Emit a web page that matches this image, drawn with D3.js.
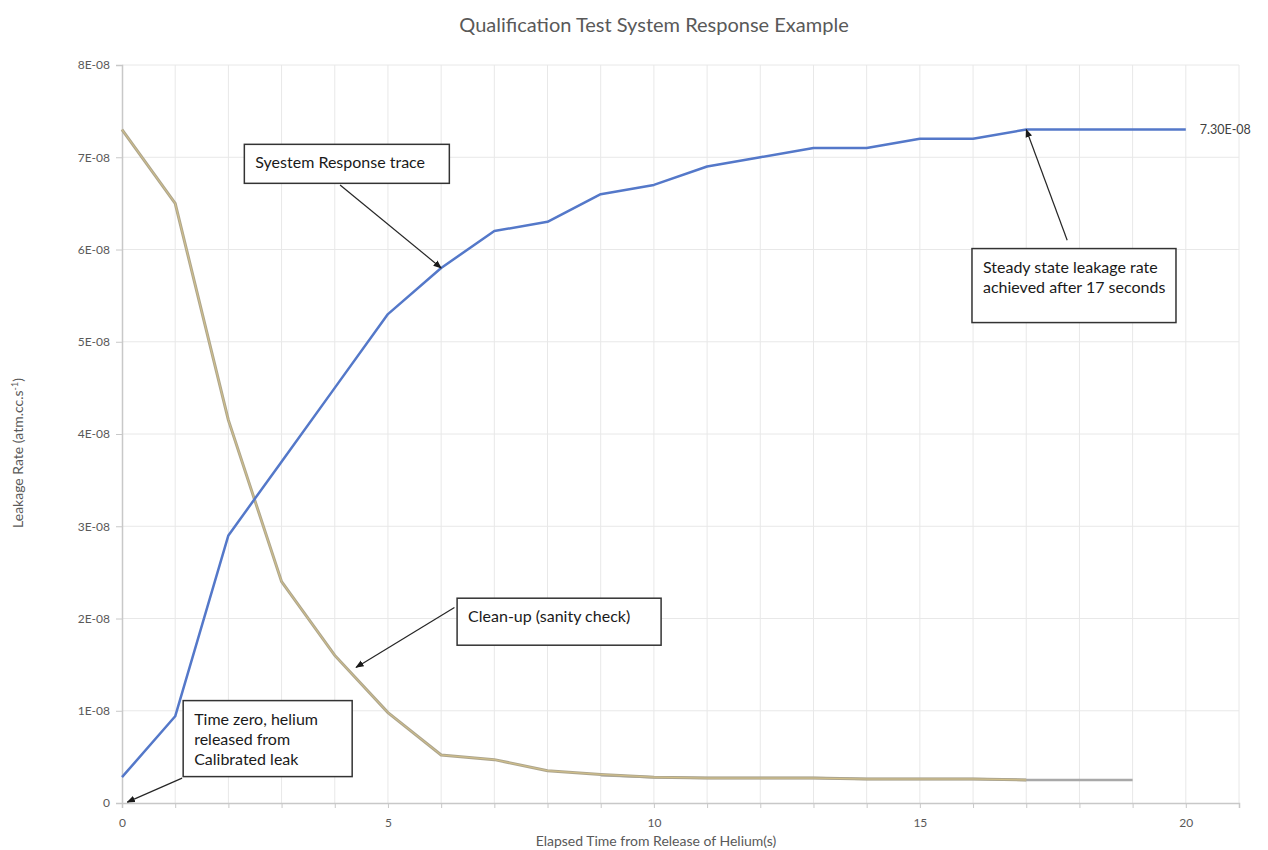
<!DOCTYPE html>
<html>
<head>
<meta charset="utf-8">
<script src="https://cdn.jsdelivr.net/npm/d3@7"></script>
<style>
  body { margin: 0; background: #fff; }
  svg { font-family: Lato, "Open Sans", sans-serif; }
</style>
</head>
<body>
<svg id="chart"></svg>
<script>
// elapsed seconds
const timeSteps = d3.range(0, 21);
// system response trace (units of 1E-08)
const responseValues = [2.8, 9.4, 29, 37, 45, 53, 58, 62, 63, 66, 67, 69, 70, 71, 71, 72, 72, 73, 73, 73, 73];
// clean-up (sanity check) trace, 0..17 s
const cleanupValues = [73, 65, 41.5, 24, 16, 9.8, 5.2, 4.7, 3.5, 3.1, 2.8, 2.7, 2.7, 2.7, 2.6, 2.6, 2.6, 2.5];
// grey tail, 9..19 s
const tailTimes = d3.range(9, 20);
const tailValues = [3.0, 2.8, 2.7, 2.7, 2.7, 2.6, 2.6, 2.6, 2.5, 2.5, 2.5];
const yTicks = [0, 1, 2, 3, 4, 5, 6, 7, 8];
const xTicks = [0, 5, 10, 15, 20];

const notes = [
    { lines: ["Syestem Response trace"], box: [2.3, 71.4], w: 205, h: 39, target: [6, 58], from: [4.1, 67] },
    { lines: ["Steady state leakage rate", "achieved after 17 seconds"], box: [15.98, 60.1], w: 204, h: 74, target: [17, 73], from: [17.77, 61.0] },
    { lines: ["Clean-up (sanity check)"], box: [6.3, 22.2], w: 204, h: 47, target: [4.4, 14.7], from: [6.25, 21.2] },
    { lines: ["Time zero, helium", "released from", "Calibrated leak"], box: [1.15, 11.1], w: 169, h: 76, target: [0.1, 0.1], from: [1.13, 2.7] }
];

const margin = { top: 65, right: 29, bottom: 47, left: 122 },
      width = 1268 - margin.left - margin.right,
      height = 850 - margin.top - margin.bottom;

const svgRoot = d3.select("#chart")
    .attr("width", 1268)
    .attr("height", 850);

const defs = svgRoot.append("defs");
defs.append("marker")
    .attr("id", "arrow")
    .attr("viewBox", "0 0 10 10")
    .attr("refX", 9).attr("refY", 5)
    .attr("markerWidth", 7).attr("markerHeight", 7)
    .attr("orient", "auto")
    .append("path")
    .attr("d", "M0,1 L10,5 L0,9 Z")
    .attr("fill", "#1a1a1a");

const svg = svgRoot.append("g")
    .attr("transform", `translate(${margin.left},${margin.top})`);

const x = d3.scaleLinear().domain([0, 21]).range([0, width]);
const y = d3.scaleLinear().domain([0, 80]).range([height, 0]);

// grid
svg.append("g")
    .selectAll("line.vg")
    .data(d3.range(1, 22))
    .enter().append("line")
    .attr("x1", d => x(d)).attr("x2", d => x(d))
    .attr("y1", 0).attr("y2", height)
    .attr("stroke", "#e8e8e8");

svg.append("g")
    .selectAll("line.hg")
    .data(yTicks.slice(1).map(d => d * 10))
    .enter().append("line")
    .attr("x1", 0).attr("x2", width)
    .attr("y1", d => y(d)).attr("y2", d => y(d))
    .attr("stroke", "#e8e8e8");

// axes
const fmtY = d => d === 0 ? "0" : `${d / 10}E-08`;
const yAxis = svg.append("g")
    .call(d3.axisLeft(y).tickValues(yTicks.map(d => d * 10)).tickFormat(fmtY).tickSize(6).tickPadding(6));
const xAxis = svg.append("g")
    .attr("transform", `translate(0,${height})`)
    .call(d3.axisBottom(x).tickValues(d3.range(0, 22)).tickFormat(d => xTicks.includes(d) ? d : "").tickSize(5).tickPadding(10));

[yAxis, xAxis].forEach(a => {
    a.select(".domain").attr("stroke", "#c8c8c8").attr("stroke-width", 1.5);
    a.selectAll(".tick line").attr("stroke", "#c8c8c8");
    a.selectAll("text").attr("fill", "#595959").style("font-size", "12px").style("font-family", "Lato, sans-serif");
});

// lines
const line = d3.line().x(d => x(d[0])).y(d => y(d[1]));

svg.append("path")
    .datum(tailTimes.map((t, i) => [t, tailValues[i]]))
    .attr("d", line).attr("fill", "none")
    .attr("stroke", "#a8a8a8").attr("stroke-width", 2.5);

const cleanupPts = cleanupValues.map((v, i) => [timeSteps[i], v]);
svg.append("path")
    .datum(cleanupPts)
    .attr("d", line).attr("fill", "none")
    .attr("stroke", "#aea68e").attr("stroke-width", 3);
svg.append("path")
    .datum(cleanupPts)
    .attr("d", line).attr("fill", "none")
    .attr("stroke", "#d2c089").attr("stroke-width", 1);

svg.append("path")
    .datum(responseValues.map((v, i) => [timeSteps[i], v]))
    .attr("d", line).attr("fill", "none")
    .attr("stroke", "#5478c9").attr("stroke-width", 2.5)
    .attr("stroke-linejoin", "round");

// end label
const last = responseValues[responseValues.length - 1];
svg.append("text")
    .attr("x", x(timeSteps[timeSteps.length - 1]) + 14)
    .attr("y", y(last) + 4)
    .attr("fill", "#404040")
    .style("font-size", "12.5px")
    .text(`${(last / 10).toFixed(2)}E-08`);

// annotations
notes.forEach(n => {
    const bx = x(n.box[0]), by = y(n.box[1]);
    svg.append("line")
        .attr("x1", x(n.from[0])).attr("y1", y(n.from[1]))
        .attr("x2", x(n.target[0])).attr("y2", y(n.target[1]))
        .attr("stroke", "#262626").attr("stroke-width", 1.2)
        .attr("marker-end", "url(#arrow)");
    svg.append("rect")
        .attr("x", bx).attr("y", by)
        .attr("width", n.w).attr("height", n.h)
        .attr("fill", "#fff")
        .attr("stroke", "#333").attr("stroke-width", 1.5);
    const t = svg.append("text")
        .attr("x", bx + 11).attr("y", by + 24)
        .attr("fill", "#1a1a1a")
        .style("font-size", "16px");
    n.lines.forEach((l, i) => {
        t.append("tspan").attr("x", bx + 11).attr("dy", i === 0 ? 0 : 20).text(l);
    });
});

// titles
svgRoot.append("text")
    .attr("x", 654).attr("y", 32)
    .attr("text-anchor", "middle")
    .attr("fill", "#595959")
    .style("font-size", "20px")
    .text("Qualification Test System Response Example");

svgRoot.append("text")
    .attr("x", 656).attr("y", 846)
    .attr("text-anchor", "middle")
    .attr("fill", "#595959")
    .style("font-size", "14px")
    .text("Elapsed Time from Release of Helium(s)");

const yTitle = svgRoot.append("text")
    .attr("transform", "translate(23,453) rotate(-90)")
    .attr("text-anchor", "middle")
    .attr("fill", "#595959")
    .style("font-size", "14px")
    .text("Leakage Rate (atm.cc.s");
yTitle.append("tspan").attr("dy", -5).style("font-size", "9px").text("-1");
yTitle.append("tspan").attr("dy", 5).text(")");
</script>
</body>
</html>
